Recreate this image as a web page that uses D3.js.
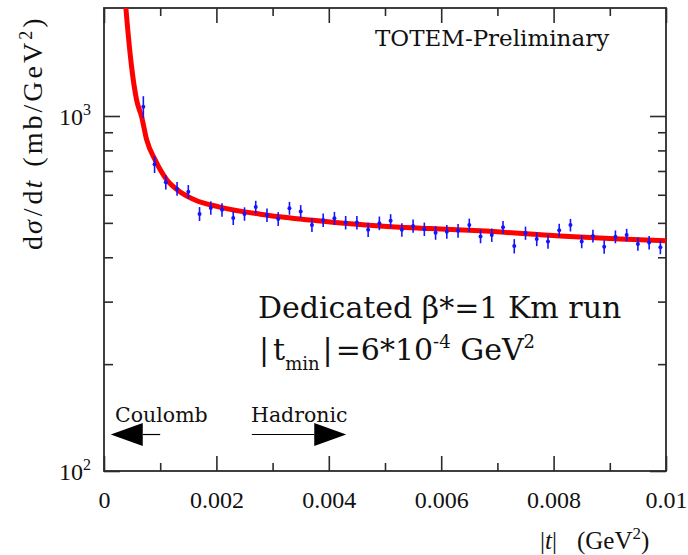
<!DOCTYPE html>
<html>
<head>
<meta charset="utf-8">
<script src="https://cdn.jsdelivr.net/npm/d3@7"></script>
<style>
  body { margin: 0; background: #fff; }
  svg { display: block; }
</style>
</head>
<body>
<svg id="chart" width="688" height="555"></svg>
<script>
// |t| bin centres (GeV^2)
const tValues = [
  0.0007, 0.0009, 0.0011, 0.0013, 0.0015, 0.0017, 0.0019, 0.0021, 0.0023, 0.0025,
  0.0027, 0.0029, 0.0031, 0.0033, 0.0035, 0.0037, 0.0039, 0.0041, 0.0043, 0.0045,
  0.0047, 0.0049, 0.0051, 0.0053, 0.0055, 0.0057, 0.0059, 0.0061, 0.0063, 0.0065,
  0.0067, 0.0069, 0.0071, 0.0073, 0.0075, 0.0077, 0.0079, 0.0081, 0.0083, 0.0085,
  0.0087, 0.0089, 0.0091, 0.0093, 0.0095, 0.0097, 0.0099
];
// measured dσ/dt (mb/GeV^2)
const dsdtValues = [
  1062, 731, 651, 624, 612, 530, 551, 544, 516, 530,
  554, 526, 513, 550, 538, 493, 509, 515, 501, 501,
  478, 499, 507, 478, 490, 480, 469, 472, 475, 493,
  458, 462, 486, 430, 468, 450, 443, 477, 493, 443,
  459, 428, 457, 462, 436, 440, 427
];
// statistical uncertainty (mb/GeV^2)
const dsdtErrors = [
  75, 40, 30, 28, 27, 24, 24, 24, 23, 23,
  23, 23, 23, 23, 23, 22, 22, 22, 22, 22,
  22, 22, 22, 21, 21, 21, 21, 21, 21, 21,
  20, 20, 20, 20, 20, 20, 20, 20, 20, 19,
  19, 19, 19, 19, 19, 19, 19
];
// Coulomb + hadronic fit curve
const fitT = [
  0.00036, 0.00039, 0.00049, 0.00058, 0.00067, 0.00076, 0.00091, 0.00112, 0.00135, 0.00162,
  0.00206, 0.00278, 0.00313, 0.00402, 0.00491, 0.0058, 0.00669, 0.00811, 0.00918, 0.0100
];
const fitValues = [
  2300, 2010, 1380, 1110, 995, 856, 752, 660, 612, 580,
  554, 529, 520, 503, 490, 482, 475, 459, 450, 445
];
const xMajorTicks = [0, 0.002, 0.004, 0.006, 0.008, 0.01];
const xTickLabels = ["0", "0.002", "0.004", "0.006", "0.008", "0.01"];
const xMinorTicks = [0.001, 0.003, 0.005, 0.007, 0.009];
const yMajorTicks = [100, 1000];
const yTickExponents = ["2", "3"];
const yMinorTicks = [200, 300, 400, 500, 600, 700, 800, 900];

const svg = d3.select("#chart");
const plotLeft = 104, plotRight = 666, plotTop = 8, plotBottom = 471;

const x = d3.scaleLinear().domain([0, 0.01]).range([plotLeft, plotRight]);
const y = d3.scaleLog().domain([100, 1000]).range([plotBottom, 116]);

const frameColor = "#2b2b2b";
const serif = "'Liberation Serif', 'Times New Roman', serif";
const dejavu = "'DejaVu Serif', serif";

svg.append("defs").append("clipPath").attr("id", "plot-clip")
  .append("rect").attr("x", plotLeft).attr("y", plotTop)
  .attr("width", plotRight - plotLeft).attr("height", plotBottom - plotTop);

// ticks on all four sides, pointing inward
function tickAxis(axis, transform) {
  const g = svg.append("g").attr("transform", transform).call(axis);
  g.select(".domain").remove();
  g.selectAll(".tick line").attr("stroke", frameColor).attr("stroke-width", 1.6);
  return g;
}
const xb = tickAxis(d3.axisBottom(x).tickValues(xMajorTicks).tickSize(-15)
  .tickPadding(20).tickFormat((d, i) => xTickLabels[i]), `translate(0,${plotBottom})`);
xb.selectAll("text").attr("fill", "#111").attr("font-family", serif)
  .attr("font-size", 24);
tickAxis(d3.axisBottom(x).tickValues(xMinorTicks).tickSize(-8).tickFormat(""), `translate(0,${plotBottom})`);
tickAxis(d3.axisTop(x).tickValues(xMajorTicks).tickSize(-15).tickFormat(""), `translate(0,${plotTop})`);
tickAxis(d3.axisTop(x).tickValues(xMinorTicks).tickSize(-8).tickFormat(""), `translate(0,${plotTop})`);
tickAxis(d3.axisLeft(y).tickValues(yMajorTicks).tickSize(-16).tickFormat(""), `translate(${plotLeft},0)`);
tickAxis(d3.axisLeft(y).tickValues(yMinorTicks).tickSize(-9).tickFormat(""), `translate(${plotLeft},0)`);
tickAxis(d3.axisRight(y).tickValues(yMajorTicks).tickSize(-16).tickFormat(""), `translate(${plotRight},0)`);
tickAxis(d3.axisRight(y).tickValues(yMinorTicks).tickSize(-8).tickFormat(""), `translate(${plotRight},0)`);

// frame
svg.append("rect").attr("x", plotLeft).attr("y", plotTop)
  .attr("width", plotRight - plotLeft).attr("height", plotBottom - plotTop)
  .attr("fill", "none").attr("stroke", frameColor).attr("stroke-width", 1.8);

// y tick labels as powers of ten
yMajorTicks.forEach((v, i) => {
  const t = svg.append("text").attr("x", 91).attr("y", y(v) + 9)
    .attr("text-anchor", "end").attr("font-family", serif)
    .attr("font-size", 24).attr("fill", "#111");
  t.append("tspan").text("10");
  t.append("tspan").attr("dy", -10).attr("font-size", 16).text(yTickExponents[i]);
});

// fit curve
const plot = svg.append("g").attr("clip-path", "url(#plot-clip)");
const fitLine = d3.line()
  .x((d, i) => x(fitT[i]))
  .y((d, i) => y(fitValues[i]))
  .curve(d3.curveMonotoneX);
plot.append("path").datum(fitT).attr("d", fitLine)
  .attr("fill", "none").attr("stroke", "#ff0000").attr("stroke-width", 5);

// data points with error bars
const pts = plot.selectAll("g.pt").data(tValues).join("g").attr("class", "pt");
pts.append("line")
  .attr("x1", (d) => x(d)).attr("x2", (d) => x(d))
  .attr("y1", (d, i) => y(dsdtValues[i] - dsdtErrors[i]))
  .attr("y2", (d, i) => y(dsdtValues[i] + dsdtErrors[i]))
  .attr("stroke", "#1414ff").attr("stroke-width", 1.6);
pts.append("circle")
  .attr("cx", (d) => x(d)).attr("cy", (d, i) => y(dsdtValues[i]))
  .attr("r", 2).attr("fill", "#1414ff");

// Coulomb / Hadronic arrows
const arrowY = 126.7;
const coulombTip = 0.00012, coulombTail = 0.0010;
const hadronTail = 0.00263, hadronTip = 0.00431;
const head = 32;
svg.append("line").attr("x1", x(coulombTip) + head).attr("x2", x(coulombTail))
  .attr("y1", y(arrowY)).attr("y2", y(arrowY)).attr("stroke", "#000").attr("stroke-width", 1.2);
svg.append("path").attr("fill", "#000")
  .attr("d", `M${x(coulombTip)},${y(arrowY)} L${x(coulombTip) + head},${y(arrowY) - 11.5} L${x(coulombTip) + head},${y(arrowY) + 11.5} Z`);
svg.append("line").attr("x1", x(hadronTail)).attr("x2", x(hadronTip) - head)
  .attr("y1", y(arrowY)).attr("y2", y(arrowY)).attr("stroke", "#000").attr("stroke-width", 1.2);
svg.append("path").attr("fill", "#000")
  .attr("d", `M${x(hadronTip)},${y(arrowY)} L${x(hadronTip) - head},${y(arrowY) - 11.5} L${x(hadronTip) - head},${y(arrowY) + 11.5} Z`);

svg.append("text").attr("x", 115).attr("y", 422).attr("font-family", dejavu)
  .attr("font-size", 20.5).attr("fill", "#111").text("Coulomb");
svg.append("text").attr("x", 251).attr("y", 422).attr("font-family", dejavu)
  .attr("font-size", 20.5).attr("fill", "#111").text("Hadronic");

svg.append("text").attr("x", 375).attr("y", 46).attr("font-family", dejavu)
  .attr("font-size", 23).attr("fill", "#111").text("TOTEM-Preliminary");

// run conditions
svg.append("text").attr("x", 258).attr("y", 318).attr("font-family", dejavu)
  .attr("font-size", 30).attr("fill", "#111").text("Dedicated β*=1 Km run");
const l2 = svg.append("text").attr("x", 259).attr("y", 360).attr("font-family", dejavu)
  .attr("font-size", 30).attr("fill", "#111");
l2.append("tspan").text("|");
l2.append("tspan").attr("dx", 4).text("t");
l2.append("tspan").attr("dy", 10).attr("font-size", 18).text("min");
l2.append("tspan").attr("dy", -10).attr("dx", 3).text("|");
l2.append("tspan").attr("dx", 3).text("=6*10");
l2.append("tspan").attr("dy", -12).attr("font-size", 18).text("-4");
l2.append("tspan").attr("dy", 12).text(" GeV");
l2.append("tspan").attr("dy", -12).attr("font-size", 18).text("2");

// axis titles
const yt = svg.append("text").attr("transform", "translate(42,250) rotate(-90)")
  .attr("font-family", serif).attr("font-size", 28).attr("fill", "#111");
yt.append("tspan").text("d");
yt.append("tspan").attr("font-style", "italic").attr("dx", 2).text("σ");
yt.append("tspan").attr("dx", 4).text("/");
yt.append("tspan").attr("dx", 4).text("d");
yt.append("tspan").attr("font-style", "italic").attr("dx", 2).text("t");
yt.append("tspan").attr("dx", 14).attr("letter-spacing", 3).text("(mb/GeV");
yt.append("tspan").attr("dy", -10).attr("font-size", 18).attr("letter-spacing", 3).text("2");
yt.append("tspan").attr("dy", 10).text(")");

const xt = svg.append("text").attr("x", 540).attr("y", 549)
  .attr("font-family", serif).attr("font-size", 25).attr("fill", "#111");
xt.append("tspan").text("|");
xt.append("tspan").attr("font-style", "italic").text("t");
xt.append("tspan").text("|");
xt.append("tspan").attr("dx", 20).text("(GeV");
xt.append("tspan").attr("dy", -10).attr("font-size", 17).text("2");
xt.append("tspan").attr("dy", 10).text(")");
</script>
</body>
</html>
